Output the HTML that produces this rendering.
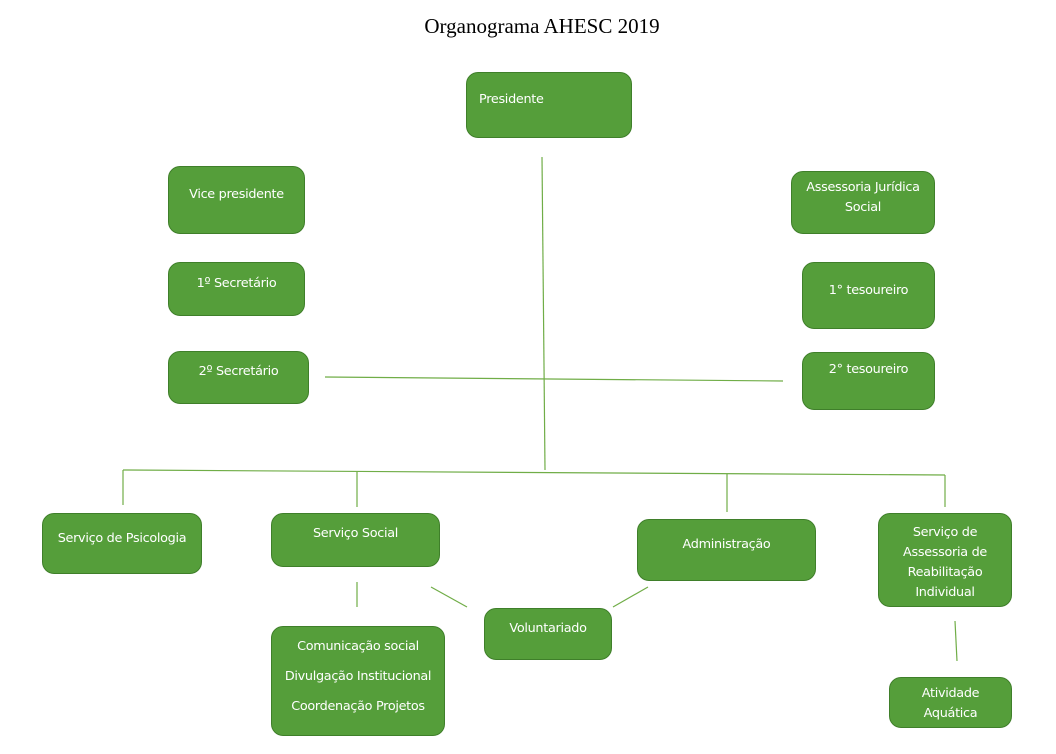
<!DOCTYPE html>
<html><head><meta charset="utf-8"><style>
body{margin:0;width:1056px;height:754px;background:#fff;position:relative;overflow:hidden;font-family:"DejaVu Sans","Liberation Sans",sans-serif}
.t{position:absolute;left:0;width:1056px;top:14px;text-align:center;font-family:"Liberation Serif",serif;font-size:21px;color:#000;padding-left:28px;box-sizing:border-box}
.b{position:absolute;background:#559e3a;border:1px solid #3f7f2a;border-radius:12px;box-sizing:border-box;color:#fff;font-size:12.8px;text-align:center;line-height:20px;display:flex;flex-direction:column;align-items:center;justify-content:flex-start;letter-spacing:-0.3px}
</style></head><body>
<div class="t">Organograma AHESC 2019</div>
<svg width="1056" height="754" style="position:absolute;left:0;top:0" stroke="#70ad47" stroke-width="1.2" fill="none">
<line x1="542" y1="157" x2="545" y2="470"/>
<line x1="325" y1="377" x2="783" y2="381"/>
<line x1="123" y1="470" x2="945" y2="475"/>
<line x1="123" y1="470" x2="123" y2="505"/>
<line x1="357" y1="472" x2="357" y2="507"/>
<line x1="727" y1="474" x2="727" y2="512"/>
<line x1="945" y1="475" x2="945" y2="507"/>
<line x1="357" y1="582" x2="357" y2="607"/>
<line x1="431" y1="587" x2="467" y2="607"/>
<line x1="613" y1="607" x2="648" y2="587"/>
<line x1="955" y1="621" x2="957" y2="661"/>
</svg>
<div class="b" style="left:466px;top:72px;width:166px;height:66px;align-items:flex-start;padding:17px 0 0 12px">Presidente</div>
<div class="b" style="left:168px;top:166px;width:137px;height:68px;padding-top:18px">Vice presidente</div>
<div class="b" style="left:168px;top:262px;width:137px;height:54px;padding-top:11px">1º Secretário</div>
<div class="b" style="left:168px;top:351px;width:141px;height:53px;padding-top:10px">2º Secretário</div>
<div class="b" style="left:791px;top:171px;width:144px;height:63px;padding-top:6px">Assessoria Jurídica<br>Social</div>
<div class="b" style="left:802px;top:262px;width:133px;height:67px;padding-top:18px">1° tesoureiro</div>
<div class="b" style="left:802px;top:352px;width:133px;height:58px;padding-top:7px">2° tesoureiro</div>
<div class="b" style="left:42px;top:513px;width:160px;height:61px;padding-top:15px">Serviço de Psicologia</div>
<div class="b" style="left:271px;top:513px;width:169px;height:54px;padding-top:10px">Serviço Social</div>
<div class="b" style="left:637px;top:519px;width:179px;height:62px;padding-top:15px">Administração</div>
<div class="b" style="left:878px;top:513px;width:134px;height:94px;padding-top:9px">Serviço de<br>Assessoria de<br>Reabilitação<br>Individual</div>
<div class="b" style="left:484px;top:608px;width:128px;height:52px;padding-top:10px">Voluntariado</div>
<div class="b" style="left:271px;top:626px;width:174px;height:110px;padding-top:5px;line-height:30px">Comunicação social<br>Divulgação Institucional<br>Coordenação Projetos</div>
<div class="b" style="left:889px;top:677px;width:123px;height:51px;padding-top:6px">Atividade<br>Aquática</div>
</body></html>
